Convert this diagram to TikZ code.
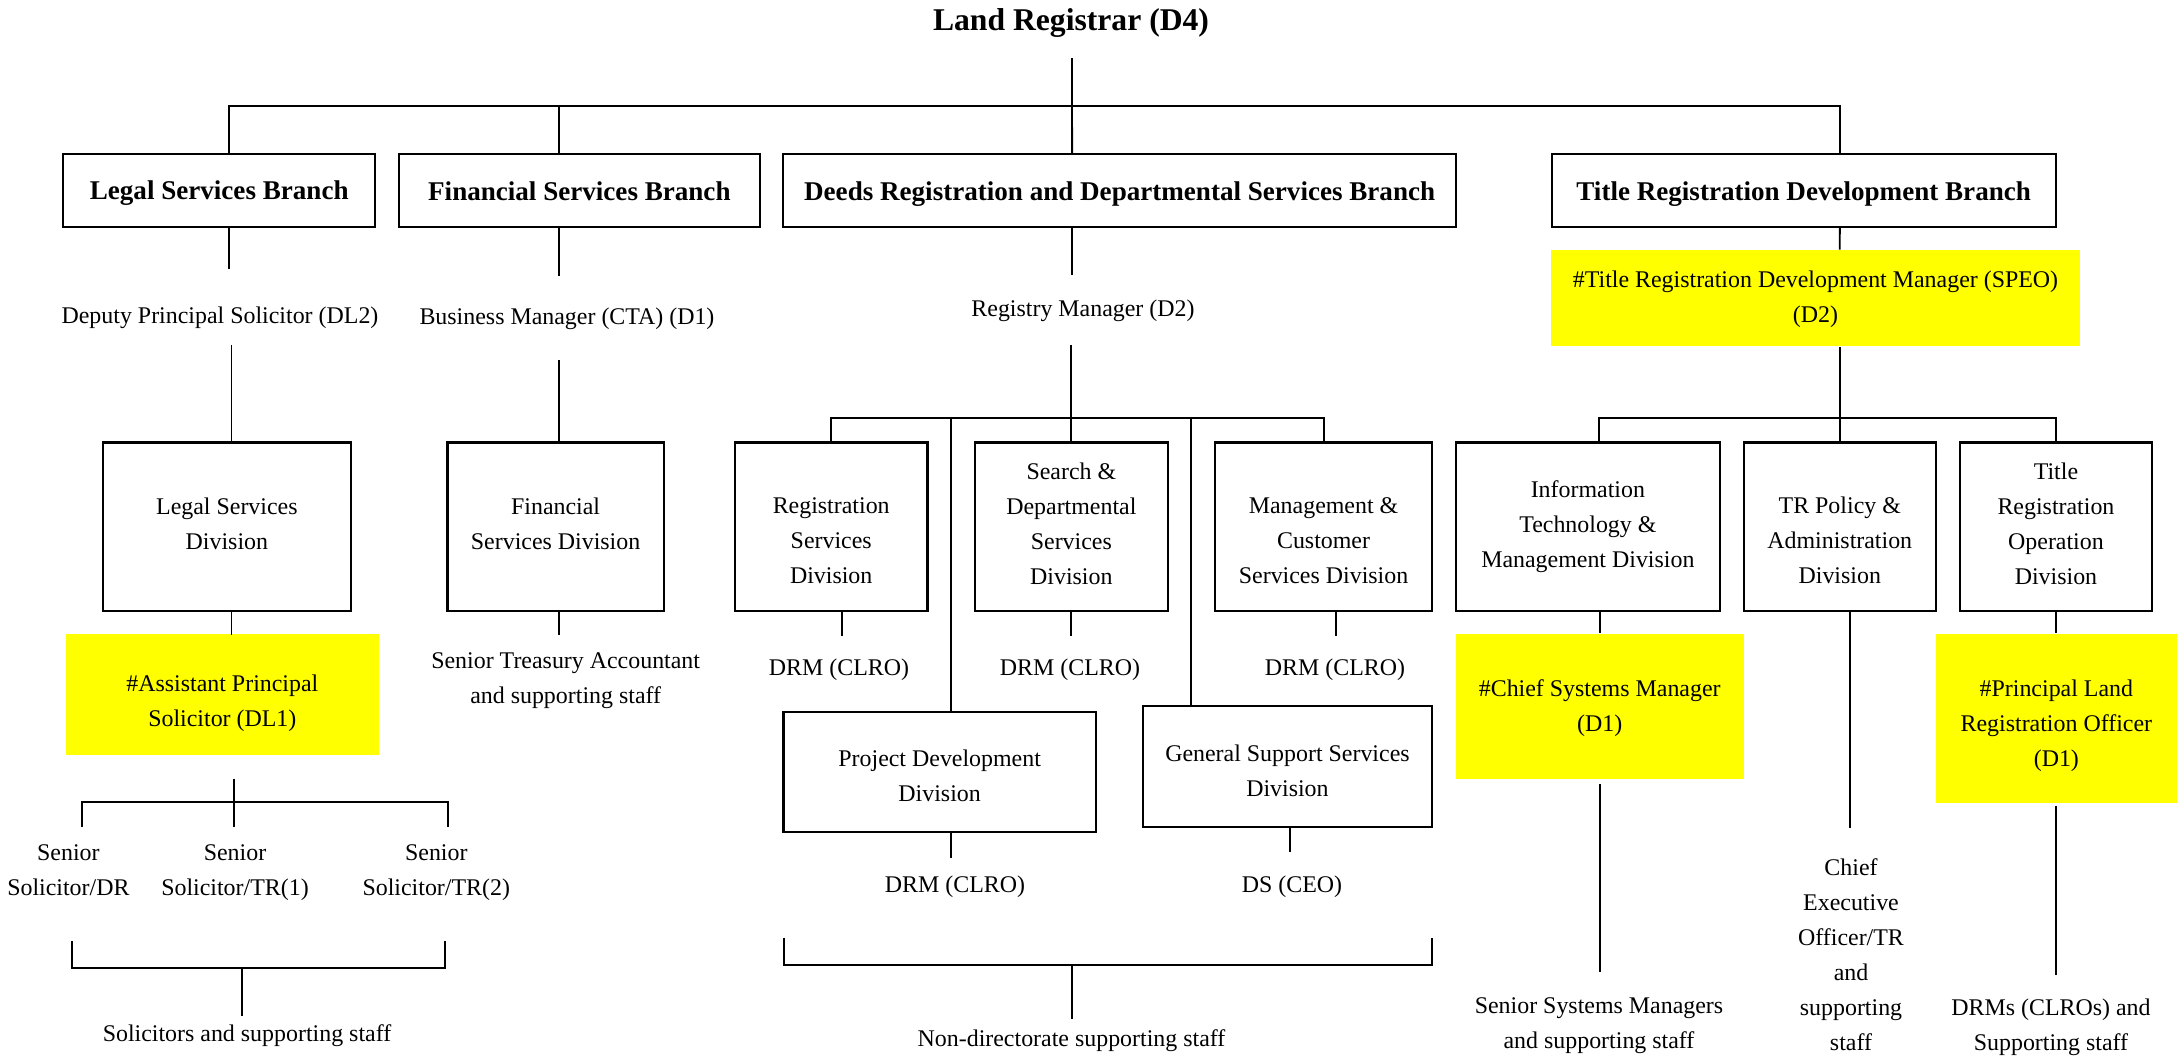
\documentclass[tikz,border=0pt]{standalone}
\usepackage{fontspec}
\setmainfont{Liberation Serif}
\usetikzlibrary{positioning}

\definecolor{postyellow}{RGB}{255,255,0}
% text block, lowered by the optional amount
\newcommand{\orgtext}[2][0pt]{\raisebox{-#1}[\height][\depth]{\begin{tabular}{@{}c@{}}#2\end{tabular}}}

\tikzset{
  txt/.style={inner sep=0pt, font=\fontsize{6.8}{9.96}\selectfont},
  branch/.style={draw, line width=0.6pt, inner sep=0pt, minimum height=0.723cm,
                 font=\fontsize{7.7}{9.96}\selectfont\bfseries},
  division/.style={txt, draw, line width=0.6pt, minimum height=1.681cm},
  post/.style={txt, fill=postyellow},
  link/.style={line width=0.55pt}
}

\begin{document}
\begin{tikzpicture}[x=0.01cm, y=-0.01cm]
\useasboundingbox (0,0) rectangle (2179,1056);

% head and branches
\node[inner sep=0pt, font=\fontsize{9}{11}\selectfont\bfseries] (registrar) at (1071,23) {\orgtext{Land Registrar (D4)}};
\node[branch, minimum width=3.122cm] (legalB) at (219.2,190.45) {\orgtext[0.22mm]{Legal Services Branch}};
\node[branch, minimum width=3.607cm] (finB) at (579.35,190.45) {\orgtext[0.35mm]{Financial Services Branch}\hspace{0.2cm}};
\node[branch, minimum width=6.721cm] (deedsB) at (1119.65,190.45) {\orgtext[0.3mm]{Deeds Registration and Departmental Services Branch}};
\node[branch, minimum width=5.039cm] (trdB) at (1803.65,190.45) {\orgtext[0.27mm]{Title Registration Development Branch}};

% heads of branches
\node[txt] (deputy) at (220,316) {\orgtext{Deputy Principal Solicitor (DL2)}};
\node[txt] (business) at (567,317.5) {\orgtext{Business Manager (CTA) (D1)}};
\node[txt] (registry) at (1083,309) {\orgtext{Registry Manager (D2)}};
\node[post, minimum width=5.29cm, minimum height=0.957cm] (speo) at (1815.5,298.25)
  {\orgtext{\#Title Registration Development Manager (SPEO)\\(D2)}};

% divisions
\node[division, minimum width=2.478cm] (legalD) at (226.9,526.55) {\orgtext[-0.2mm]{Legal Services\\Division}};
\node[division, minimum width=2.16cm] (finD) at (555.6,526.55) {\orgtext[-0.2mm]{Financial\\Services Division}};
\node[division, minimum width=1.924cm] (regD) at (831.2,526.55) {\orgtext[1.5mm]{Registration\\Services\\Division}};
\node[division, minimum width=1.925cm] (searchD) at (1071.35,526.55) {\orgtext[-0.2mm]{Search \&\\Departmental\\Services\\Division}};
\node[division, minimum width=2.165cm] (mgmtD) at (1323.55,526.55) {\orgtext[1.5mm]{Management \&\\Customer\\Services Division}};
\node[division, minimum width=2.643cm] (itD) at (1587.85,526.55) {\orgtext[-0.1mm]{Information\\Technology \&\\Management Division}};
\node[division, minimum width=1.921cm] (trpolD) at (1839.75,526.55) {\orgtext[1.5mm]{TR Policy \&\\Administration\\Division}};
\node[division, minimum width=1.927cm] (troD) at (2055.95,526.55) {\orgtext[-0.2mm]{Title\\Registration\\Operation\\Division}};
\node[division, minimum width=3.121cm, minimum height=1.2cm] (project) at (939.65,772.1) {\orgtext[0.5mm]{Project Development\\Division}};
\node[division, minimum width=2.887cm, minimum height=1.203cm] (gss) at (1287.45,766.45) {\orgtext[0.55mm]{General Support Services\\Division}};

% posts
\node[post, minimum width=3.129cm, minimum height=1.21cm] (aps) at (222.35,694.3) {\orgtext[0.75mm]{\#Assistant Principal\\Solicitor (DL1)}};
\node[post, minimum width=2.88cm, minimum height=1.45cm] (csm) at (1599.7,706.3) {\orgtext[0.1mm]{\#Chief Systems Manager\\(D1)}};
\node[post, minimum width=2.411cm, minimum height=1.689cm] (plro) at (2056.35,718.25) {\orgtext[0.6mm]{\#Principal Land\\Registration Officer\\(D1)}};

\node[txt] (treasury) at (565.7,679.3) {\orgtext{Senior Treasury Accountant\\and supporting staff}};
\node[txt] (drmReg) at (839,668.7) {\orgtext{DRM (CLRO)}};
\node[txt] (drmSearch) at (1070,668.7) {\orgtext{DRM (CLRO)}};
\node[txt] (drmMgmt) at (1335,668.7) {\orgtext{DRM (CLRO)}};
\node[txt] (drmProject) at (955,885) {\orgtext{DRM (CLRO)}};
\node[txt] (dsceo) at (1292,885.8) {\orgtext{DS (CEO)}};
\node[txt] (solDR) at (68.4,871) {\orgtext{Senior\\Solicitor/DR}};
\node[txt] (solTR1) at (235,871) {\orgtext{Senior\\Solicitor/TR(1)}};
\node[txt] (solTR2) at (436.3,871) {\orgtext{Senior\\Solicitor/TR(2)}};
\node[txt] (solStaff) at (247,1034.5) {\orgtext{Solicitors and supporting staff}};
\node[txt] (ndStaff) at (1071.5,1039.6) {\orgtext{Non-directorate supporting staff}};
\node[txt] (ssmStaff) at (1599,1024.2) {\orgtext{Senior Systems Managers\\and supporting staff}};
\node[txt] (ceoStaff) at (1851,956.2) {\orgtext{Chief\\Executive\\Officer/TR\\and\\supporting\\staff}};
\node[txt] (drmStaff) at (2051,1026.3) {\orgtext{DRMs (CLROs) and\\Supporting staff}};

% top level lines
\coordinate (topjoin) at (1072,106);
\draw[link] (topjoin) ++(0,-48) -- ([xshift=-4.76mm]deedsB.north);
\draw[link] ([xshift=1.02mm]legalB.north) |- (topjoin) -| ([xshift=3.61mm]trdB.north);
\draw[link] ([xshift=-2.04mm]finB.north) -- ++(0,-48.3);

\draw[link] ([xshift=1.02mm]legalB.south) -- ++(0,41.4);
\draw[link] ([xshift=-2.04mm]finB.south) -- ++(0,48.2);
\draw[link] ([xshift=-4.76mm]deedsB.south) -- ++(0,47.2);
\draw[link] ([xshift=3.61mm]trdB.south) -- ([xshift=2.42mm]speo.north);

\draw[link] ([xshift=0.46mm]legalD.north) -- ++(0,-96.5);
\draw[link] ([xshift=0.34mm]finD.north) -- ++(0,-81.5);
\draw[link] (searchD.north) -- ++(0,-96.5);
\draw[link] (speo.south -| trpolD.north) -- (trpolD.north);

% division bars
\coordinate (deedsbar) at (1071.35,418.4);
\draw[link] (regD.north) |- (deedsbar) -| (mgmtD.north);
\draw[link] ([xshift=1.16mm]project.north) -- ++(0,-293.7);
\draw[link] ([xshift=-9.6mm]gss.north) -- ++(0,-287.9);
\coordinate (trdbar) at (1839.7,418.4);
\draw[link] ([xshift=1.15mm]itD.north) |- (trdbar) -| (troD.north);

% below divisions
\draw[link] ([xshift=0.46mm]legalD.south) -- ++(0,23.2);
\draw[link] ([xshift=0.34mm]finD.south) -- ++(0,22.9);
\draw[link] ([xshift=1.06mm]regD.south) -- ++(0,24.3);
\draw[link] (searchD.south) -- ++(0,24.3);
\draw[link] ([xshift=1.2mm]mgmtD.south) -- ++(0,24.3);
\draw[link] (itD.south -| csm.north) -- (csm.north);
\draw[link] ([xshift=1.06mm]trpolD.south) -- ++(0,216);
\draw[link] (troD.south) -- (troD.south |- plro.north);
\draw[link] ([xshift=1.16mm]project.south) -- ++(0,24.6);
\draw[link] ([xshift=0.29mm]gss.south) -- ++(0,24.3);

% brackets
\coordinate (apsbar) at (233.6,802.4);
\draw[link] ([xshift=1.13mm]aps.south) ++(0,23.2) -- ++(0,48.6);
\draw[link] (apsbar) ++(-151.5,24.2) |- ++(365.5,-24.2) -- ++(0,24.2);
\coordinate (solbar) at (242,967.8);
\draw[link] (solbar) ++(-170.4,-26.8) |- ++(373.2,26.8) -- ++(0,-26.8);
\draw[link] (solbar) -- ++(0,48.5);
\coordinate (ndbar) at (1072,965);
\draw[link] (ndbar) ++(-288.4,-27.3) |- ++(648.2,27.3) -- ++(0,-27.3);
\draw[link] (ndbar) -- ++(0,54);

\draw[link] (csm.south) ++(0,4.4) -- ++(0,188);
\draw[link] (plro.south) ++(-0.8,2.1) -- ++(0,169.2);
\end{tikzpicture}
\end{document}
